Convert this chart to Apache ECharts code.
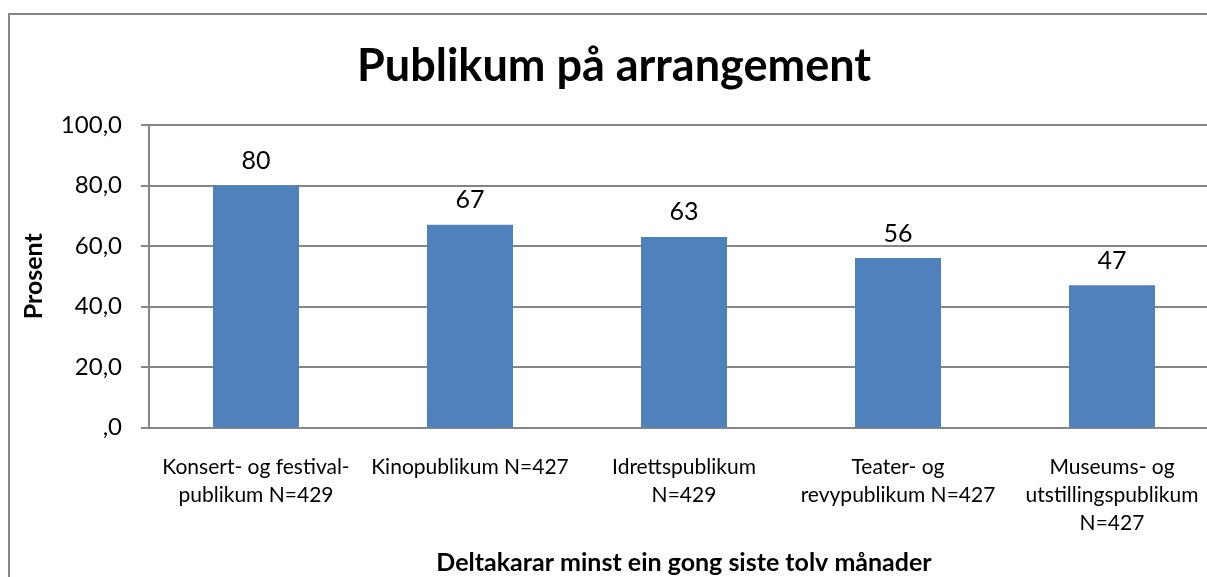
<!DOCTYPE html>
<html>
<head>
<meta charset="utf-8">
<script src="https://cdn.jsdelivr.net/npm/echarts@6/dist/echarts.min.js"></script>
<style>
  html, body { margin: 0; padding: 0; background: #fff; }
  #chart { width: 1207px; height: 577px; }
</style>
</head>
<body>
<div id="chart"></div>
<script>
// kategoriar og verdiar
const categories = [
  "Konsert- og festival-\npublikum N=429",
  "Kinopublikum N=427",
  "Idrettspublikum\nN=429",
  "Teater- og\nrevypublikum N=427",
  "Museums- og\nutstillingspublikum\nN=427"
];
const values = [80, 67, 63, 56, 47];
const yTicks = { min: 0, max: 100, interval: 20 };

const font = "Lato, 'Open Sans', sans-serif";
const grey = "#868686";

const chart = echarts.init(document.getElementById("chart"));
chart.setOption({
  animation: false,
  textStyle: { fontFamily: font },
  title: {
    text: "Publikum på arrangement",
    left: 609,
    textAlign: "center",
    top: 39,
    textStyle: { fontSize: 45, fontWeight: "bold", color: "#000", fontFamily: font }
  },
  graphic: [{
    type: "rect",
    shape: { x: 9, y: 14, width: 1300, height: 700 },
    style: { fill: "none", stroke: grey, lineWidth: 2 },
    silent: true
  }],
  grid: { left: 149, right: -12, top: 125, bottom: 149.5, containLabel: false, outerBoundsMode: "none" },
  xAxis: {
    type: "category",
    data: categories,
    axisLine: { lineStyle: { color: grey, width: 2 } },
    axisTick: { show: false },
    axisLabel: { color: "#000", fontSize: 21, lineHeight: 28, margin: 26, interval: 0 },
    name: "Deltakarar minst ein gong siste tolv månader",
    nameLocation: "middle",
    nameGap: 123,
    nameTextStyle: { fontSize: 25, fontWeight: "bold", color: "#000" }
  },
  yAxis: {
    type: "value",
    min: yTicks.min,
    max: yTicks.max,
    interval: yTicks.interval,
    axisLine: { show: true, lineStyle: { color: grey, width: 2 } },
    axisTick: { show: true, length: 8, lineStyle: { color: grey, width: 2 } },
    splitLine: { lineStyle: { color: grey, width: 2 } },
    axisLabel: {
      color: "#000",
      fontSize: 24,
      margin: 27,
      formatter: v => v === 0 ? ",0" : v.toFixed(1).replace(".", ",")
    },
    name: "Prosent",
    nameLocation: "middle",
    nameGap: 103,
    nameRotate: 90,
    nameTextStyle: { fontSize: 25, fontWeight: "bold", color: "#000" }
  },
  series: [{
    type: "bar",
    data: values,
    barWidth: 86,
    itemStyle: { color: "#4F81BD" },
    label: { show: true, position: "top", distance: 12, color: "#000", fontSize: 25 }
  }]
});
</script>
</body>
</html>
